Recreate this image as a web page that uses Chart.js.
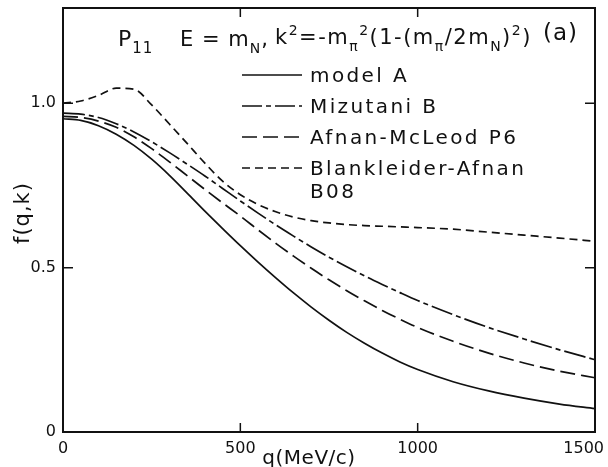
<!DOCTYPE html>
<html>
<head>
<meta charset="utf-8">
<script src="https://cdn.jsdelivr.net/npm/chart.js@4.4.0/dist/chart.umd.min.js"></script>
<style>
  html, body { margin: 0; padding: 0; background: #fff; }
</style>
</head>
<body>
<canvas id="myChart" width="608" height="467"></canvas>
<script>
// q in MeV/c
var qValues = [0, 50, 100, 150, 200, 250, 300, 350, 400, 450, 500, 550, 600, 650, 700, 750, 800, 850, 900, 950, 1000, 1100, 1200, 1300, 1400, 1500];
var modelA = [0.953, 0.948, 0.932, 0.906, 0.872, 0.830, 0.781, 0.727, 0.672, 0.619, 0.567, 0.517, 0.469, 0.423, 0.380, 0.340, 0.303, 0.270, 0.240, 0.213, 0.190, 0.153, 0.125, 0.103, 0.085, 0.071];
var mizutaniB = [0.970, 0.967, 0.957, 0.938, 0.913, 0.883, 0.850, 0.815, 0.779, 0.741, 0.703, 0.666, 0.630, 0.596, 0.563, 0.532, 0.503, 0.475, 0.449, 0.424, 0.400, 0.357, 0.318, 0.283, 0.250, 0.220];
var afnanMcLeodP6 = [0.960, 0.957, 0.946, 0.927, 0.898, 0.862, 0.822, 0.780, 0.738, 0.697, 0.657, 0.615, 0.574, 0.535, 0.498, 0.463, 0.430, 0.399, 0.370, 0.343, 0.318, 0.276, 0.240, 0.210, 0.185, 0.165];
var blankleiderB08 = [1.000, 1.007, 1.024, 1.046, 1.043, 0.995, 0.937, 0.878, 0.818, 0.763, 0.722, 0.692, 0.670, 0.654, 0.643, 0.636, 0.631, 0.628, 0.626, 0.624, 0.622, 0.617, 0.608, 0.599, 0.590, 0.580];

var xTicks = [0, 500, 1000, 1500];
var xTickLabels = ['0', '500', '1000', '1500'];
var yTicks = [0, 0.5, 1.0];
var yTickLabels = ['0', '0.5', '1.0'];

var FONT = '"DejaVu Sans", sans-serif';
var INK = '#111';

function pts(vals) {
    return qValues.map(function (q, i) { return { x: q, y: vals[i] }; });
}

function curve(label, vals, dash) {
    return {
        label: label,
        data: pts(vals),
        borderColor: INK,
        borderWidth: 1.7,
        borderDash: dash,
        pointRadius: 0,
        fill: false,
        cubicInterpolationMode: 'monotone'
    };
}

var legendRows = [
    { text: 'model A', dash: [], y: 75 },
    { text: 'Mizutani B', dash: [20, 4, 5, 4], y: 106 },
    { text: 'Afnan-McLeod P6', dash: [15, 6], y: 137 },
    { text: 'Blankleider-Afnan', dash: [8, 5], y: 168 },
    { text: 'B08', dash: null, y: 191 }
];

// draws a run of text pieces, each normal / sub / sup
function drawRich(ctx, x, y, parts, size) {
    parts.forEach(function (p) {
        var small = p[1] === 'sub' || p[1] === 'sup';
        ctx.font = (small ? Math.round(size * 0.66) : size) + 'px ' + FONT;
        var dy = p[1] === 'sub' ? size * 0.32 : (p[1] === 'sup' ? -size * 0.42 : 0);
        ctx.fillText(p[0], x, y + dy);
        x += ctx.measureText(p[0]).width;
    });
    return x;
}

var decor = {
    id: 'decor',
    afterDraw: function (chart) {
        var ctx = chart.ctx;
        var a = chart.chartArea;
        var sx = chart.scales.x, sy = chart.scales.y;
        ctx.save();

        // frame
        ctx.strokeStyle = INK;
        ctx.lineWidth = 2;
        ctx.strokeRect(a.left, a.top, a.right - a.left, a.bottom - a.top);

        // inward ticks
        ctx.lineWidth = 1.5;
        ctx.beginPath();
        [500, 1000].forEach(function (v) {
            var px = sx.getPixelForValue(v);
            ctx.moveTo(px, a.bottom); ctx.lineTo(px, a.bottom - 9);
            ctx.moveTo(px, a.top); ctx.lineTo(px, a.top + 9);
        });
        [0.5, 1.0].forEach(function (v) {
            var py = sy.getPixelForValue(v);
            ctx.moveTo(a.left, py); ctx.lineTo(a.left + 10, py);
            ctx.moveTo(a.right, py); ctx.lineTo(a.right - 10, py);
        });
        ctx.stroke();

        ctx.fillStyle = INK;
        ctx.textBaseline = 'alphabetic';

        // x tick labels, the last one kept inside the canvas
        ctx.font = '16px ' + FONT;
        ctx.textAlign = 'center';
        ctx.letterSpacing = '0px';
        xTicks.forEach(function (v, i) {
            var w = ctx.measureText(xTickLabels[i]).width;
            var px = Math.min(sx.getPixelForValue(v), chart.width - 4 - w / 2);
            ctx.fillText(xTickLabels[i], px, a.bottom + 21);
        });

        ctx.textAlign = 'left';

        // legend
        ctx.letterSpacing = '2.4px';
        ctx.font = '20px ' + FONT;
        legendRows.forEach(function (r) {
            if (r.dash) {
                ctx.setLineDash(r.dash);
                ctx.lineWidth = 1.7;
                ctx.beginPath();
                ctx.moveTo(242, r.y);
                ctx.lineTo(302, r.y);
                ctx.stroke();
            }
            ctx.fillText(r.text, 310, r.y + 7);
        });
        ctx.setLineDash([]);

        // heading
        ctx.letterSpacing = '1px';
        drawRich(ctx, 118, 46, [['P', ''], ['11', 'sub']], 22);
        drawRich(ctx, 180, 46, [['E = m', ''], ['N', 'sub'], [',', '']], 21);
        ctx.letterSpacing = '1.5px';
        drawRich(ctx, 275, 44, [['k', ''], ['2', 'sup'], ['=-m', ''], ['\u03c0', 'sub'], ['2', 'sup'],
            ['(1-(m', ''], ['\u03c0', 'sub'], ['/2m', ''], ['N', 'sub'], [')', ''], ['2', 'sup'], [')', '']], 21);
        ctx.letterSpacing = '1px';
        ctx.font = '23px ' + FONT;
        ctx.fillText('(a)', 543, 40);

        // axis titles
        ctx.letterSpacing = '0.5px';
        ctx.font = '20px ' + FONT;
        ctx.textAlign = 'center';
        ctx.fillText('q(MeV/c)', 309, 464);
        ctx.letterSpacing = '1px';
        ctx.font = '21px ' + FONT;
        ctx.save();
        ctx.translate(29, 213);
        ctx.rotate(-Math.PI / 2);
        ctx.fillText('f(q,k)', 0, 0);
        ctx.restore();

        ctx.restore();
    }
};

var ctxMain = document.getElementById('myChart');
var chart = new Chart(ctxMain, {
    type: 'line',
    data: {
        datasets: [
            curve('model A', modelA, []),
            curve('Mizutani B', mizutaniB, [22, 4, 5, 4]),
            curve('Afnan-McLeod P6', afnanMcLeodP6, [15, 6]),
            curve('Blankleider-Afnan B08', blankleiderB08, [8, 5])
        ]
    },
    options: {
        responsive: false,
        animation: false,
        layout: { padding: { left: 0, right: 13, top: 8, bottom: 0 } },
        plugins: { legend: { display: false }, tooltip: { enabled: false } },
        scales: {
            x: {
                type: 'linear',
                min: 0,
                max: 1500,
                afterFit: function (s) { s.height = 35; s.paddingLeft = 0; s.paddingRight = 0; },
                afterBuildTicks: function (s) { s.ticks = xTicks.map(function (v) { return { value: v }; }); },
                grid: { display: false, drawTicks: false },
                border: { display: false },
                ticks: { display: false }
            },
            y: {
                type: 'linear',
                min: 0,
                max: 1.29,
                afterFit: function (s) { s.width = 63; s.paddingTop = 0; s.paddingBottom = 0; },
                afterBuildTicks: function (s) { s.ticks = yTicks.map(function (v) { return { value: v }; }); },
                grid: { display: false, drawTicks: false },
                border: { display: false },
                ticks: {
                    color: INK,
                    padding: 7,
                    font: { family: FONT, size: 16 },
                    callback: function (v) { return yTickLabels[yTicks.indexOf(v)]; }
                }
            }
        }
    },
    plugins: [decor]
});
</script>
</body>
</html>
